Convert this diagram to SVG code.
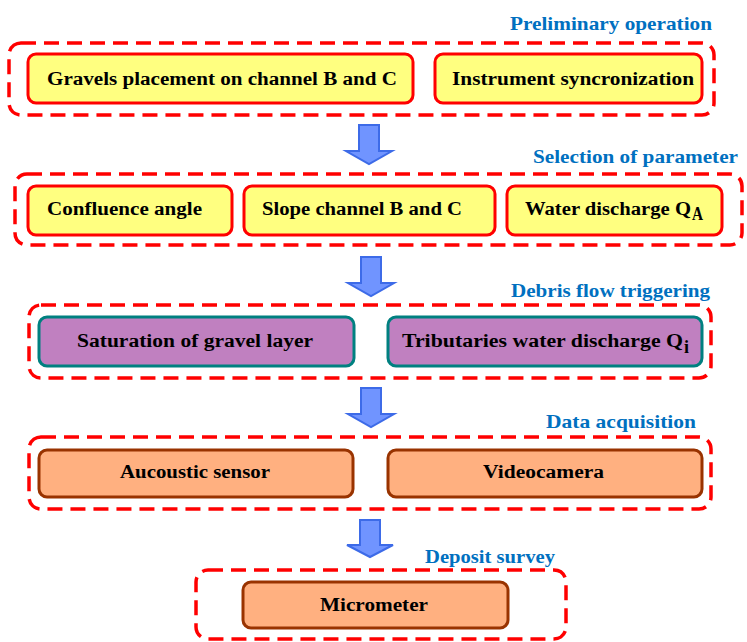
<svg xmlns="http://www.w3.org/2000/svg" width="747" height="642" viewBox="0 0 747 642">
<style>
.grp{fill:none;stroke:#FF0000;stroke-width:3.5;stroke-dasharray:15 8}
.yel{fill:#FFFF80;stroke:#FF0000;stroke-width:3}
.pur{fill:#C080C0;stroke:#008080;stroke-width:3}
.org{fill:#FFB080;stroke:#993300;stroke-width:3}
.t{font-family:"Liberation Serif",serif;font-weight:bold;font-size:18px;fill:#000}
.h{font-family:"Liberation Serif",serif;font-weight:bold;font-size:19px;fill:#0070C0}
.arr{fill:#7094FF;stroke:#3D6BE8;stroke-width:2}
</style>
<rect width="747" height="642" fill="#fff"/>
<g id="g1">
<text class="h" x="510" y="30" textLength="202" lengthAdjust="spacingAndGlyphs">Preliminary operation</text>
<rect class="grp" x="9" y="43" width="705" height="72" rx="12"/>
</g>
<g id="n1"><rect class="yel" x="28" y="54" width="385" height="49" rx="8"/><text class="t" x="47" y="85" textLength="350" lengthAdjust="spacingAndGlyphs">Gravels placement on channel B and C</text></g>
<g id="n2"><rect class="yel" x="435" y="54" width="267" height="49" rx="8"/><text class="t" x="452" y="85" textLength="242" lengthAdjust="spacingAndGlyphs">Instrument syncronization</text></g>

<g id="g2">
<text class="h" x="533" y="163" textLength="205" lengthAdjust="spacingAndGlyphs">Selection of parameter</text>
<rect class="grp" x="15" y="174" width="727" height="71" rx="12"/>
</g>
<g id="n3"><rect class="yel" x="28" y="186" width="204" height="49" rx="8"/><text class="t" x="47" y="215" textLength="155" lengthAdjust="spacingAndGlyphs">Confluence angle</text></g>
<g id="n4"><rect class="yel" x="244" y="186" width="251" height="49" rx="8"/><text class="t" x="262" y="215" textLength="200" lengthAdjust="spacingAndGlyphs">Slope channel B and C</text></g>
<g id="n5"><rect class="yel" x="507" y="186" width="215" height="49" rx="8"/><text class="t" x="525" y="215" textLength="166" lengthAdjust="spacingAndGlyphs">Water discharge Q</text><text class="t" x="692" y="220" font-size="13" textLength="11" lengthAdjust="spacingAndGlyphs">A</text></g>

<g id="g3">
<text class="h" x="511" y="297" textLength="199" lengthAdjust="spacingAndGlyphs">Debris flow triggering</text>
<rect class="grp" x="29" y="305" width="682" height="73" rx="12"/>
</g>
<g id="n6"><rect class="pur" x="39" y="317" width="315" height="49" rx="8"/><text class="t" x="77" y="347" textLength="236" lengthAdjust="spacingAndGlyphs">Saturation of gravel layer</text></g>
<g id="n7"><rect class="pur" x="388" y="317" width="314" height="49" rx="8"/><text class="t" x="402" y="347" textLength="281" lengthAdjust="spacingAndGlyphs">Tributaries water discharge  Q</text><text class="t" x="684" y="353" font-size="13">i</text></g>

<g id="g4">
<text class="h" x="546" y="428" textLength="150" lengthAdjust="spacingAndGlyphs">Data acquisition</text>
<rect class="grp" x="29" y="437" width="682" height="72" rx="12"/>
</g>
<g id="n8"><rect class="org" x="39" y="450" width="314" height="47" rx="8"/><text class="t" x="120" y="478" textLength="150" lengthAdjust="spacingAndGlyphs">Aucoustic sensor</text></g>
<g id="n9"><rect class="org" x="388" y="450" width="314" height="47" rx="8"/><text class="t" x="483" y="478" textLength="121" lengthAdjust="spacingAndGlyphs">Videocamera</text></g>

<g id="g5">
<text class="h" x="425" y="563" textLength="130" lengthAdjust="spacingAndGlyphs">Deposit survey</text>
<rect class="grp" x="196" y="570" width="370" height="69" rx="12"/>
</g>
<g id="n10"><rect class="org" x="243" y="582" width="265" height="46" rx="8"/><text class="t" x="320" y="611" textLength="108" lengthAdjust="spacingAndGlyphs">Micrometer</text></g>

<g id="connectors">
<path class="arr" d="M359,125 H379 V151 H392 L369,164 L346,151 H359 Z"/>
<path class="arr" d="M361,257 H381 V283 H394 L371,296 L348,283 H361 Z"/>
<path class="arr" d="M361,388 H381 V414 H394 L371,427 L348,414 H361 Z"/>
<path class="arr" d="M360,520 H380 V545 H393 L370,557 L347,545 H360 Z"/>
</g>
</svg>
